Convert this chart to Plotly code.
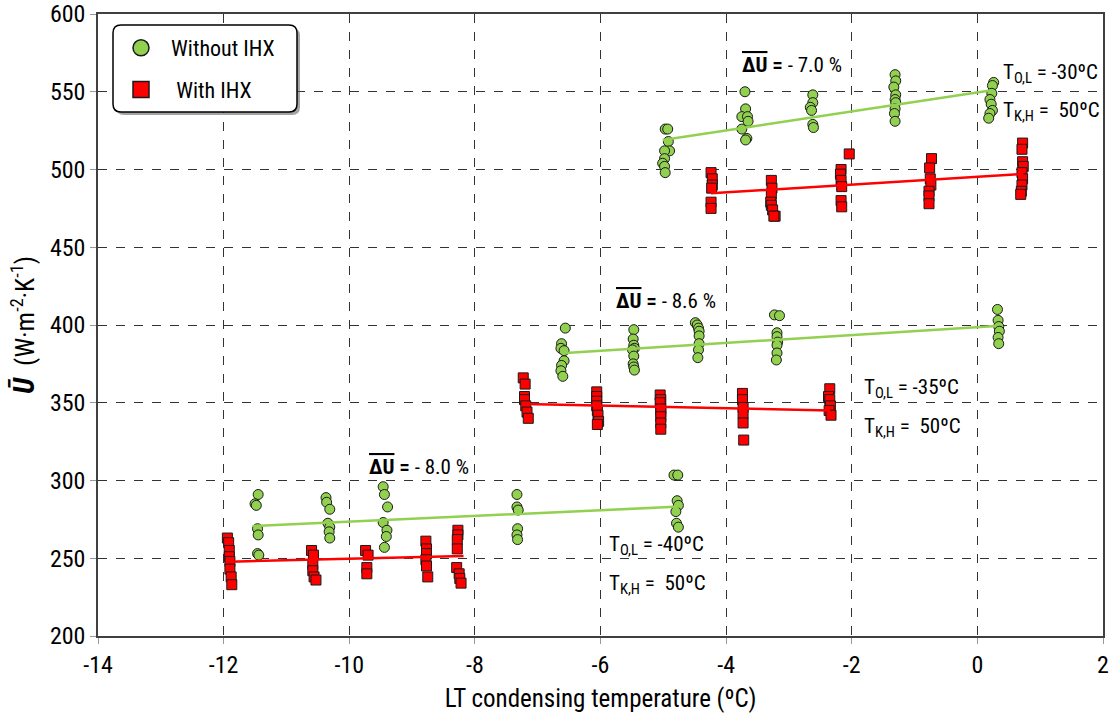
import plotly.graph_objects as go

# ---------------- DATA ----------------
# T_O,L = -30 ºC
wo30_x = [-4.97, -4.93, -4.92, -4.90, -4.98, -4.98, -5.01, -4.98, -4.97,
          -3.70, -3.69, -3.75, -3.66, -3.65, -3.75, -3.67, -3.69,
          -2.62, -2.62, -2.66, -2.64, -2.62, -2.61,
          -1.31, -1.30, -1.33, -1.30, -1.31, -1.30, -1.31, -1.32, -1.31,
          0.26, 0.24, 0.23, 0.20, 0.22, 0.24, 0.20, 0.18]
wo30_y = [526, 526, 518, 512, 512, 507, 504, 502, 498,
          550, 539, 534, 534, 531, 526, 520, 519,
          548, 543, 540, 538, 529, 527,
          561, 557, 553, 548, 545, 543, 539, 536, 531,
          556, 554, 549, 545, 542, 538, 536, 533]
wi30_x = [-4.24, -4.22, -4.22, -4.23, -4.24, -4.24,
          -3.28, -3.27, -3.28, -3.29, -3.28, -3.26, -3.22, -3.24,
          -2.04, -2.17, -2.18, -2.17, -2.16, -2.17, -2.16,
          -0.73, -0.76, -0.75, -0.74, -0.77, -0.77, -0.77,
          0.72, 0.71, 0.72, 0.73, 0.71, 0.72, 0.71, 0.70, 0.69]
wi30_y = [498, 494, 490, 488, 479, 475,
          493, 488, 484, 479, 477, 474, 470, 470,
          510, 500, 497, 493, 489, 480, 476,
          507, 501, 494, 490, 486, 483, 478,
          517, 513, 505, 502, 498, 494, 490, 486, 484]

# T_O,L = -35 ºC
wo35_x = [-6.56, -6.62, -6.63, -6.58, -6.58, -6.62, -6.63, -6.60,
          -5.47, -5.48, -5.47, -5.46, -5.49, -5.47, -5.48, -5.47, -5.46,
          -4.49, -4.46, -4.44, -4.43, -4.43, -4.43, -4.44, -4.45,
          -3.23, -3.15, -3.19, -3.19, -3.18, -3.19, -3.19, -3.20,
          0.32, 0.33, 0.34, 0.35, 0.33, 0.34]
wo35_y = [398, 388, 385, 383.5, 377, 374, 370.6, 367,
          397, 391, 387, 385, 384, 380, 375, 373, 371,
          401.5, 400, 398, 396, 393, 388, 384, 379,
          406.5, 406, 395, 392.5, 389, 387, 382, 377.5,
          410, 403, 399, 396, 392, 388]
wi35_x = [-7.23, -7.20, -7.21, -7.21, -7.19, -7.17, -7.15,
          -6.06, -6.06, -6.06, -6.06, -6.05, -6.04, -6.03, -6.05,
          -5.05, -5.04, -5.05, -5.04, -5.04, -5.04, -5.04, -5.04,
          -3.74, -3.74, -3.73, -3.73, -3.73, -3.72,
          -2.35, -2.37, -2.35, -2.34, -2.36, -2.33]
wi35_y = [366, 362, 354, 352, 348, 344, 340,
          357, 354, 351, 348, 345, 342, 338, 336,
          355, 352, 350, 346, 344, 341, 337, 333,
          356, 352, 347, 343, 337, 326,
          359, 354, 352, 348, 345, 342]

# T_O,L = -40 ºC
wo40_x = [-11.45, -11.50, -11.48, -11.46, -11.45, -11.46, -11.44,
          -10.37, -10.36, -10.31, -10.34, -10.31, -10.32, -10.31,
          -9.46, -9.44, -9.39, -9.46, -9.40, -9.41, -9.44,
          -7.33, -7.33, -7.31, -7.32, -7.33, -7.32,
          -4.83, -4.77, -4.78, -4.76, -4.80, -4.79, -4.76]
wo40_y = [291, 285, 284, 269, 265, 253, 252,
          289, 286, 281.5, 272.5, 270, 267, 263,
          296, 291, 283, 273, 268, 264, 257,
          291, 283, 281, 269, 265, 262,
          303.5, 303.5, 287, 284, 280, 272.5, 270]
wi40_x = [-11.94, -11.92, -11.91, -11.91, -11.90, -11.90, -11.88, -11.87,
          -10.60, -10.57, -10.58, -10.58, -10.56, -10.53,
          -9.74, -9.70, -9.72, -9.72,
          -8.78, -8.77, -8.77, -8.78, -8.77, -8.75,
          -8.27, -8.27, -8.28, -8.28, -8.29, -8.25, -8.24, -8.22]
wi40_y = [263, 260, 255, 251, 248, 243, 238, 233,
          255, 252, 246, 242, 238, 236,
          255, 252, 244, 240,
          261, 256, 253, 249, 245, 238,
          268, 265, 262, 256, 244, 240, 237, 234]

# trend lines (end points)
trend_wo30_x = [-5.01, 0.23];  trend_wo30_y = [519, 551]
trend_wi30_x = [-4.24, 0.73];  trend_wi30_y = [484.7, 497.1]
trend_wo35_x = [-6.56, 0.30];  trend_wo35_y = [382, 399.4]
trend_wi35_x = [-7.20, -2.34]; trend_wi35_y = [349.2, 345]
trend_wo40_x = [-11.54, -4.73]; trend_wo40_y = [270.7, 283.2]
trend_wi40_x = [-11.90, -8.18]; trend_wi40_y = [247.8, 251.5]

delta_labels = ["- 7.0 %", "- 8.6 %", "- 8.0 %"]
tol_labels = ["-30ºC", "-35ºC", "-40ºC"]
tkh_label = "50ºC"
x_ticks = list(range(-14, 3, 2))
y_ticks = list(range(200, 601, 50))

# ---------------- STYLE ----------------
FONT = "Liberation Sans Narrow, Arial Narrow, Roboto Condensed, DejaVu Sans Condensed, sans-serif"
GREEN = "#92D050"
RED = "#FF0000"
EDGE = "#1a1a1a"

fig = go.Figure()

for xs, ys in [(wo30_x, wo30_y), (wo35_x, wo35_y), (wo40_x, wo40_y)]:
    fig.add_trace(go.Scatter(x=xs, y=ys, mode="markers", showlegend=False,
                             marker=dict(symbol="circle", size=10, color=GREEN,
                                         line=dict(color=EDGE, width=1))))
for xs, ys in [(wi30_x, wi30_y), (wi35_x, wi35_y), (wi40_x, wi40_y)]:
    fig.add_trace(go.Scatter(x=xs, y=ys, mode="markers", showlegend=False,
                             marker=dict(symbol="square", size=10, color=RED,
                                         line=dict(color=EDGE, width=1))))
for xs, ys in [(trend_wo30_x, trend_wo30_y), (trend_wo35_x, trend_wo35_y), (trend_wo40_x, trend_wo40_y)]:
    fig.add_trace(go.Scatter(x=xs, y=ys, mode="lines", showlegend=False,
                             line=dict(color=GREEN, width=2.5)))
for xs, ys in [(trend_wi30_x, trend_wi30_y), (trend_wi35_x, trend_wi35_y), (trend_wi40_x, trend_wi40_y)]:
    fig.add_trace(go.Scatter(x=xs, y=ys, mode="lines", showlegend=False,
                             line=dict(color=RED, width=2.5)))

# legend entries
fig.add_trace(go.Scatter(x=[None], y=[None], mode="markers", name="\u00a0 Without IHX",
                         legendgroup="a",
                         marker=dict(symbol="circle", size=16, color=GREEN,
                                     line=dict(color=EDGE, width=1.5))))
fig.add_trace(go.Scatter(x=[None], y=[None], mode="markers", name="\u00a0\u00a0 With IHX",
                         legendgroup="b",
                         marker=dict(symbol="square", size=16, color=RED,
                                     line=dict(color=EDGE, width=1.5))))

# ---------------- ANNOTATIONS ----------------
OV = "<b><span style='text-decoration:overline'>ΔU</span> =</b> "
ann = []
delta_pos = [(-3.78, 567.2), (-5.78, 415.6), (-9.72, 308.9)]
for (x, y), lab in zip(delta_pos, delta_labels):
    ann.append(dict(x=x, y=y, xref="x", yref="y", text=OV + lab, showarrow=False,
                    xanchor="left", yanchor="middle", font=dict(size=21, color="black", family=FONT)))
t_pos = [(0.37, 561.5, 537.5), (-1.84, 359, 334), (-5.89, 258, 233)]
for (x, y1, y2), lab in zip(t_pos, tol_labels):
    ann.append(dict(x=x, y=y1, xref="x", yref="y", text="T<sub>O,L</sub> = " + lab, showarrow=False,
                    xanchor="left", yanchor="middle", font=dict(size=21, color="black", family=FONT)))
    ann.append(dict(x=x, y=y2, xref="x", yref="y", text="T<sub>K,H</sub> = \u00a0" + tkh_label, showarrow=False,
                    xanchor="left", yanchor="middle", font=dict(size=21, color="black", family=FONT)))

# ---------------- LEGEND BOX (rounded) ----------------
PW, PH = 1005.0, 622.0
def px2paper(px, py):
    return (px - 98) / PW, 1 - (py - 14) / PH

def rounded(x0p, y0p, x1p, y1p, r):
    x0, y0 = px2paper(x0p, y0p)
    x1, y1 = px2paper(x1p, y1p)
    rx, ry = r / PW, r / PH
    return (f"M {x0+rx},{y0} L {x1-rx},{y0} Q {x1},{y0} {x1},{y0-ry} "
            f"L {x1},{y1+ry} Q {x1},{y1} {x1-rx},{y1} L {x0+rx},{y1} "
            f"Q {x0},{y1} {x0},{y1+ry} L {x0},{y0-ry} Q {x0},{y0} {x0+rx},{y0} Z")

shapes = [
    dict(type="path", xref="paper", yref="paper", path=rounded(116, 28, 300, 115, 8),
         fillcolor="rgba(90,90,90,0.55)", line=dict(width=0), layer="above"),
    dict(type="path", xref="paper", yref="paper", path=rounded(113, 25, 297, 112, 8),
         fillcolor="white", line=dict(color="black", width=1.5), layer="above"),
]

fig.update_layout(
    width=1114, height=717,
    margin=dict(l=98, r=11, t=14, b=81, autoexpand=False),
    paper_bgcolor="white", plot_bgcolor="white",
    font=dict(family=FONT, size=22, color="black"),
    annotations=ann, shapes=shapes,
    showlegend=True,
    legend=dict(x=(121 - 98) / PW, y=1 - (27 - 14) / PH, xanchor="left", yanchor="top",
                bgcolor="rgba(0,0,0,0)", borderwidth=0,
                font=dict(size=22, family=FONT, color="black"),
                traceorder="grouped", tracegroupgap=10, itemsizing="trace"),
)
fig.update_xaxes(range=[-14, 2], tickvals=x_ticks, ticktext=[str(v) for v in x_ticks],
                 automargin=False,
                 showgrid=True, gridcolor="#333333", griddash="dash", gridwidth=1,
                 zeroline=False, showline=True, mirror=True, linecolor="#404040", linewidth=1.5,
                 ticks="outside", ticklen=6, tickcolor="#999999",
                 tickfont=dict(size=24, family=FONT),
                 title=dict(text="LT condensing temperature (ºC)", font=dict(size=25, family=FONT), standoff=12))
fig.update_yaxes(range=[200, 600], tickvals=y_ticks, ticktext=[str(v) for v in y_ticks],
                 automargin=False,
                 showgrid=True, gridcolor="#333333", griddash="dash", gridwidth=1,
                 zeroline=False, showline=True, mirror=True, linecolor="#404040", linewidth=1.5,
                 ticks="outside", ticklen=6, tickcolor="#999999",
                 tickfont=dict(size=24, family=FONT),
                 title=dict(text="<b><i><span style='font-size:29px'>Ū</span></i></b>  (W·m<sup>-2</sup>·K<sup>-1</sup>)",
                            font=dict(size=26, family=FONT), standoff=8))

fig.write_html("out.html")
